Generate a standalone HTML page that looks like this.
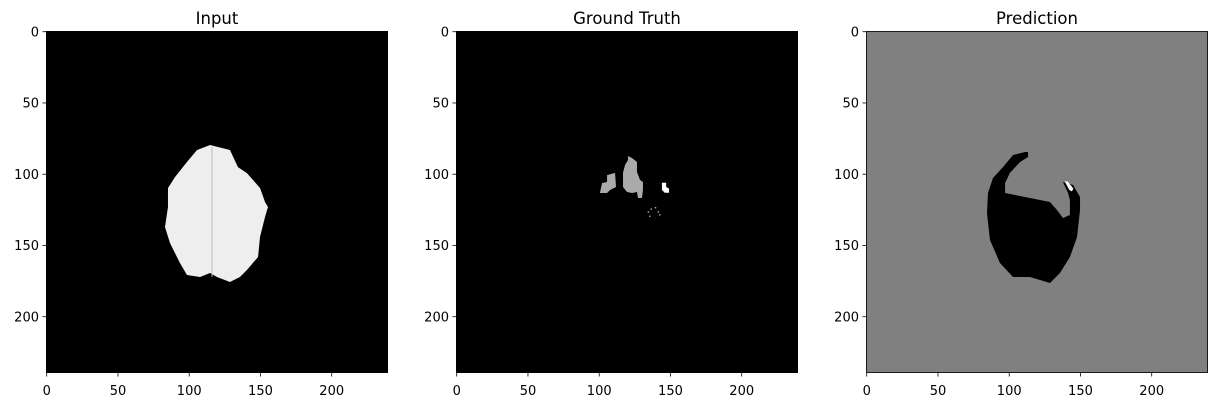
<!DOCTYPE html>
<html><head><meta charset="utf-8"><style>
body{margin:0;background:#fff;width:1222px;height:407px;overflow:hidden}
svg{font-family:"DejaVu Sans","Liberation Sans",sans-serif}
</style></head><body>
<svg id="fig" width="1222" height="407" xmlns="http://www.w3.org/2000/svg"></svg>
<script>
const ticks=[0,50,100,150,200];
const titles=["Input","Ground Truth","Prediction"];
const bgs=["#000","#000","#808080"];
// image-space polygons (col,row)
const brain=[[114.6,79.5],[128.6,83],[134.2,95],[140.5,99.2],[149.7,109.7],[153.2,119.5],[155.3,123],[153.2,130],[149.7,144],[148.3,158.1],[140.5,167.2],[135.6,172.1],[128.6,175.6],[119.5,172.1],[114.6,169.3],[107.6,172.1],[98.4,170.7],[93.5,162.3],[86.5,148.3],[83,137],[85.1,123],[85.1,109.7],[90,102],[98.4,91.4],[105.5,83]];
const gtMain=[[120.2,87.2],[123,88.6],[126.5,91.4],[126.5,98.4],[128.6,104],[130.7,105.5],[130.7,111.1],[130,116.7],[127.2,116.7],[126.5,112.5],[123,113.2],[119.5,112.5],[116.7,109],[116.7,99.1],[118.1,93.5],[120.2,90]];
const gtLeft=[[105.5,100.6],[111.1,99.1],[111.8,109],[107.6,111.1],[105.5,113.2],[100.5,113.2],[102,106.2],[105.5,105.5]];
const gtWhite=[[144,106],[147,106],[147,109],[149,110],[149,113],[146,113],[144,111]];
const gtSpecks=[[134,126],[136,124],[139,123],[141,126],[142,128],[135,129]];
const predBlack=[[111.1,84.4],[113.2,84.4],[113.2,87.9],[107.6,91.4],[100.5,99.1],[97.1,106.2],[97.1,113.2],[114.6,116.7],[128.6,119.5],[133.5,125.1],[137.7,130.7],[142.6,128.6],[142.6,118.1],[141.3,113.2],[137.7,105.5],[144.8,107.6],[149.7,116],[149.7,125.1],[147.6,144.1],[142.6,158.1],[135.6,169.3],[128.6,176.3],[114.6,172.1],[102.7,172.1],[93.5,162.3],[86.5,146.2],[84.4,127.2],[85.1,113.2],[88.6,102.7],[95.6,95],[102.7,86.5]];
const predWhite=[[139,105],[141,105],[145,110],[144,112],[142,111]];
const lefts=[46,456,866], axTop=31, S=1.425;
const NS="http://www.w3.org/2000/svg", fig=document.getElementById('fig');
function mk(t,a,p){const e=document.createElementNS(NS,t);for(const k in a)e.setAttribute(k,a[k]);(p||fig).appendChild(e);return e;}
function X(i,u){return lefts[i]+(u+0.5)*S;}
function Y(v){return axTop+(v+0.5)*S;}
function poly(i,pts,fill,name){const p=mk('polygon',{points:pts.map(q=>X(i,q[0])+','+Y(q[1])).join(' '),fill:fill});

}
for(let i=0;i<3;i++){
 const W=240*S;
 const r=mk('rect',{x:lefts[i],y:axTop,width:W,height:W,fill:bgs[i]});
 
 
 const t=mk('text',{x:lefts[i]+W/2,y:24,'text-anchor':'middle','font-size':'16.5',fill:'#000'});t.textContent=titles[i];
 
 
 if(i==0){poly(0,brain,'#eeeeee','brain-region');
  mk('line',{x1:X(0,116),y1:Y(81),x2:X(0,116),y2:Y(172),stroke:'#bbb','stroke-width':1});}
 if(i==1){poly(1,gtMain,'#aaaaaa','gt-main-region');poly(1,gtLeft,'#aaaaaa','gt-left-region');poly(1,gtWhite,'#ffffff','gt-white-region');
  gtSpecks.forEach(s=>{const e=mk('rect',{x:X(1,s[0]),y:Y(s[1]),width:S,height:S,fill:'#aaaaaa'});});}
 if(i==2){poly(2,predBlack,'#000000','pred-black-region');poly(2,predWhite,'#ffffff','pred-white-region');}
 mk('rect',{x:lefts[i]+0.5,y:axTop+0.5,width:W-1,height:W-1,fill:'none',stroke:'#000','stroke-width':0.8});
 ticks.forEach(v=>{
  const xx=X(i,v), yy=Y(v);
  mk('line',{x1:xx,y1:axTop+W,x2:xx,y2:axTop+W+3.5,stroke:'#000','stroke-width':0.8});
  const tx=mk('text',{x:xx,y:395,'text-anchor':'middle','font-size':'13',fill:'#000'});tx.textContent=v;
  
  
  mk('line',{x1:lefts[i]-3.5,y1:yy,x2:lefts[i],y2:yy,stroke:'#000','stroke-width':0.8});
  const ty=mk('text',{x:lefts[i]-7,y:yy+4.7,'text-anchor':'end','font-size':'13',fill:'#000'});ty.textContent=v;
  
  
 });
}
</script>
</body></html>
